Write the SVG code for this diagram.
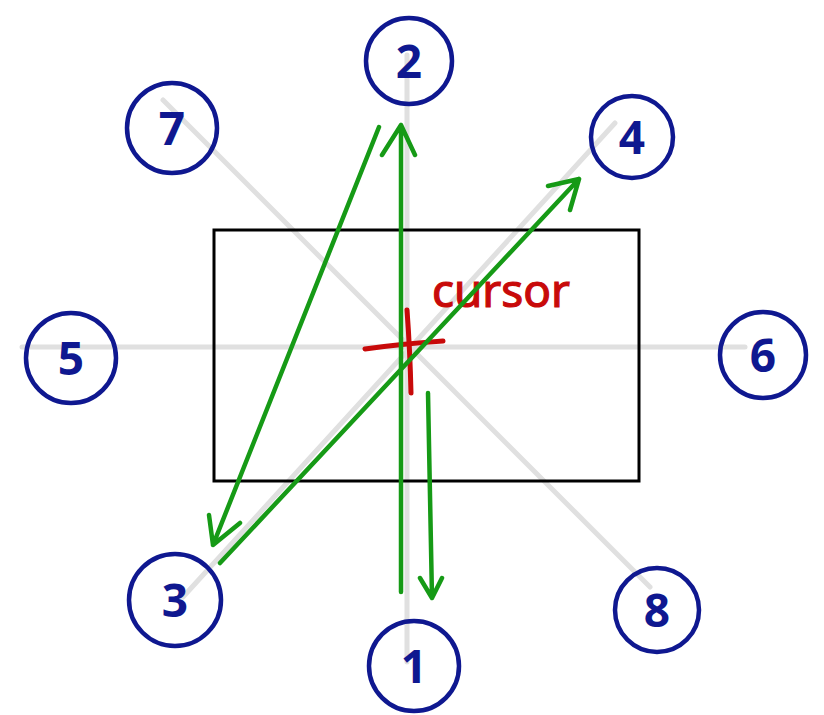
<svg xmlns="http://www.w3.org/2000/svg" width="824" height="715" viewBox="0 0 824 715">
<style>
.guide{stroke:#e0e0e0;stroke-width:5;fill:none;stroke-linecap:round}
.node circle{fill:none;stroke:#0f1890;stroke-width:4.5}
.node text{fill:#0f1890;font-family:"Noto Sans",sans-serif;font-size:46px;font-weight:700;text-anchor:middle}
.arrow{stroke:#169a16;stroke-width:4.5;fill:none;stroke-linecap:round;stroke-linejoin:round}
.cur{stroke:#c80a0a;stroke-width:5;fill:none;stroke-linecap:round}
</style>
<rect width="824" height="715" fill="#ffffff"/>
<g id="guides">
<line class="guide" x1="22" y1="347" x2="745" y2="347"/>
<line class="guide" x1="407" y1="55" x2="407" y2="662"/>
<line class="guide" x1="163" y1="100" x2="650" y2="587"/>
<line class="guide" x1="183" y1="597" x2="615" y2="123"/>
</g>
<rect id="window" x="214" y="230" width="425" height="251" fill="none" stroke="#000" stroke-width="3"/>
<g id="cursor">
<path class="cur" d="M365 349 Q400 344 443 341"/>
<path class="cur" d="M407 310 Q410 350 411 393"/>
<text x="432" y="307" fill="#c80a0a" stroke="#c80a0a" stroke-width="1.2" font-family="Noto Sans, sans-serif" font-size="46" textLength="138" lengthAdjust="spacingAndGlyphs">cursor</text>
</g>
<g id="n1" class="node"><circle cx="414" cy="666" r="45"/><text x="414" y="683">1</text></g>
<g id="n2" class="node"><circle cx="409" cy="61" r="43"/><text x="409" y="78">2</text></g>
<g id="n3" class="node"><circle cx="175" cy="600" r="46"/><text x="175" y="617">3</text></g>
<g id="n4" class="node"><circle cx="632" cy="137" r="41"/><text x="632" y="154">4</text></g>
<g id="n5" class="node"><circle cx="71" cy="358" r="45"/><text x="71" y="375">5</text></g>
<g id="n6" class="node"><circle cx="763" cy="355" r="43"/><text x="763" y="372">6</text></g>
<g id="n7" class="node"><circle cx="172" cy="128" r="45"/><text x="172" y="145">7</text></g>
<g id="n8" class="node"><circle cx="657" cy="610" r="42"/><text x="657" y="627">8</text></g>
<g id="connectors">
<path class="arrow" d="M401 592 L401 125 M382 155 L401 125 L415 155"/>
<path class="arrow" d="M379 127 L213 545 M209 515 L213 545 L240 523"/>
<path class="arrow" d="M220 563 L579 179 M548 186 L579 179 L570 210"/>
<path class="arrow" d="M428 393 L432 598 M420 578 L432 598 L442 578"/>
</g>
</svg>
